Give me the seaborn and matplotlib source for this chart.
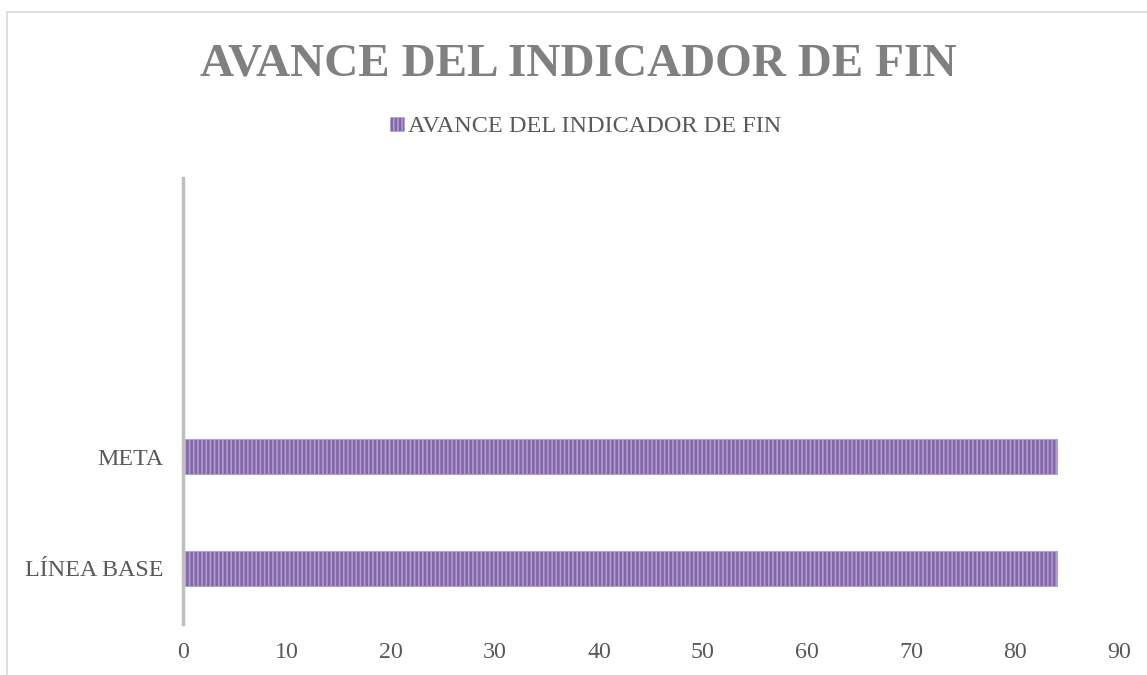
import matplotlib
matplotlib.use("Agg")
import matplotlib.pyplot as plt
import seaborn as sns
import pandas as pd
from matplotlib.patches import Rectangle

categories = ["META", "LÍNEA BASE"]
values = [84, 84]
series_name = "AVANCE DEL INDICADOR DE FIN"
title = "AVANCE DEL INDICADOR DE FIN"
xticks = [0, 10, 20, 30, 40, 50, 60, 70, 80, 90]

sns.set_theme(style="white")
plt.rcParams["font.family"] = ["Liberation Serif", "DejaVu Serif"]
plt.rcParams["hatch.linewidth"] = 1.1
plt.rcParams["hatch.color"] = "#D9CFE8"

BAR_FACE = "#8266A8"
BAR_EDGE = "#B3A0D0"

df = pd.DataFrame({"cat": categories, "val": values})

fig = plt.figure(figsize=(11.47, 6.75), dpi=100)
ax = fig.add_axes([0.1595, 0.0756, 0.9756 - 0.1595, 0.7363 - 0.0756])

sns.barplot(data=df, x="val", y="cat", order=categories, orient="h",
            color=BAR_FACE, width=0.31, ax=ax, saturation=1)
for p in ax.patches:
    p.set_hatch("||||")
    p.set_edgecolor(BAR_EDGE)
    p.set_linewidth(0.8)

ax.set_xlim(0, 90)
ax.set_ylim(1.5, -2.5)
ax.set_xticks(xticks)
ax.set_xticklabels([str(t) for t in xticks])
ax.set_xlabel("")
ax.set_ylabel("")
ax.tick_params(axis="both", length=0, labelsize=17.3, labelcolor="#595959")
ax.tick_params(axis="y", pad=14)
ax.tick_params(axis="x", pad=13)
for s in ["top", "right", "bottom"]:
    ax.spines[s].set_visible(False)
ax.spines["left"].set_color("#BFBFBF")
ax.spines["left"].set_linewidth(2.5)
ax.grid(False)

# legend
handle = Rectangle((0, 0), 1, 1, facecolor=BAR_FACE, hatch="||||", edgecolor=BAR_EDGE, linewidth=0.5)
fig.legend([handle], [series_name], loc="center", bbox_to_anchor=(586 / 1147, 1 - 127 / 675),
           frameon=False, fontsize=17.5, handlelength=0.55, handleheight=0.55, handletextpad=0.2,
           labelcolor="#595959")

fig.text(578 / 1147, 1 - 76 / 675, title, ha="center", va="baseline", fontsize=34,
         fontweight="bold", color="#808080")

# chart border
fig.patches.append(Rectangle((7 / 1147, -0.02), 1.05, (675 - 12) / 675 + 0.02,
                             transform=fig.transFigure, fill=False, edgecolor="#D9D9D9",
                             linewidth=1.2, clip_on=False))

fig.savefig("out.png", dpi=100)
